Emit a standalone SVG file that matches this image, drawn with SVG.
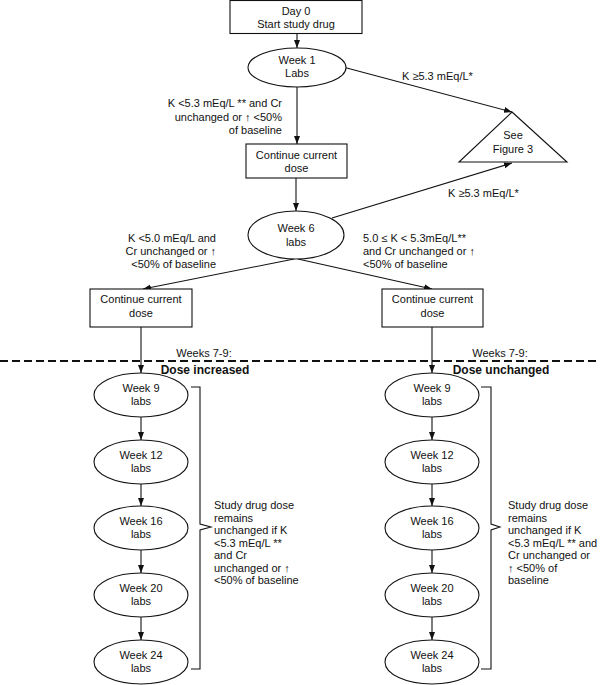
<svg xmlns="http://www.w3.org/2000/svg" width="600" height="685" viewBox="0 0 600 685">
<style>
text{font-family:"Liberation Sans",Arial,sans-serif;font-size:11px;fill:#111}
.c{text-anchor:middle}
.r{text-anchor:end}
.b{font-weight:bold;font-size:12px}
.n{fill:#fff;stroke:#111;stroke-width:1.1}
.e{fill:none;stroke:#111;stroke-width:1.1}
</style>
<defs>
<marker id="ah" markerUnits="userSpaceOnUse" markerWidth="8" markerHeight="8" viewBox="0 0 8 8" refX="8" refY="4" orient="auto">
<path d="M0,1 L8,4 L0,7 Z" fill="#111"/>
</marker>
</defs>
<rect width="600" height="685" fill="#fff"/>
<g id="connectors">
<line class="e" x1="297" y1="33" x2="297" y2="48" marker-end="url(#ah)"/>
<line class="e" x1="297" y1="87" x2="297" y2="144" marker-end="url(#ah)"/>
<line class="e" x1="343" y1="67" x2="512" y2="112" marker-end="url(#ah)"/>
<line class="e" x1="296" y1="178" x2="296" y2="211" marker-end="url(#ah)"/>
<line class="e" x1="332" y1="218" x2="512" y2="163" marker-end="url(#ah)"/>
<line class="e" x1="294" y1="259" x2="143" y2="289" marker-end="url(#ah)"/>
<line class="e" x1="298" y1="259" x2="432" y2="289" marker-end="url(#ah)"/>
<line class="e" x1="141" y1="327" x2="141" y2="373" marker-end="url(#ah)"/>
<line class="e" x1="432" y1="327" x2="432" y2="373" marker-end="url(#ah)"/>
<line class="e" x1="141" y1="417" x2="141" y2="440" marker-end="url(#ah)"/>
<line class="e" x1="141" y1="484" x2="141" y2="506" marker-end="url(#ah)"/>
<line class="e" x1="141" y1="550" x2="141" y2="573" marker-end="url(#ah)"/>
<line class="e" x1="141" y1="617" x2="141" y2="640" marker-end="url(#ah)"/>
<line class="e" x1="432" y1="417" x2="432" y2="440" marker-end="url(#ah)"/>
<line class="e" x1="432" y1="484" x2="432" y2="506" marker-end="url(#ah)"/>
<line class="e" x1="432" y1="550" x2="432" y2="573" marker-end="url(#ah)"/>
<line class="e" x1="432" y1="617" x2="432" y2="640" marker-end="url(#ah)"/>
<path class="e" d="M191,387 H200 V524 L211,527 L200,530 V669 H191"/>
<path class="e" d="M481,387 H491 V524 L500,527 L491,530 V669 H481"/>
</g>
<g id="labels">
<text class="r" x="282" y="107">K &lt;5.3 mEq/L ** and Cr</text>
<text class="r" x="282" y="121">unchanged or ↑ &lt;50%</text>
<text class="r" x="282" y="134">of baseline</text>
<text x="402" y="80">K ≥5.3 mEq/L*</text>
<text x="448" y="197">K ≥5.3 mEq/L*</text>
<text class="r" x="216" y="242">K &lt;5.0 mEq/L  and</text>
<text class="r" x="216" y="255">Cr unchanged or ↑</text>
<text class="r" x="216" y="268">&lt;50% of baseline</text>
<text x="363" y="242">5.0 ≤ K &lt; 5.3mEq/L**</text>
<text x="363" y="255">and Cr unchanged or ↑</text>
<text x="363" y="268">&lt;50% of baseline</text>
<line x1="0" y1="361" x2="600" y2="361" stroke="#111" stroke-width="2" stroke-dasharray="8,4"/>
<text class="c" x="204" y="357">Weeks 7-9:</text>
<text class="c b" x="205" y="374">Dose increased</text>
<text class="c" x="500" y="357">Weeks 7-9:</text>
<text class="c b" x="501" y="374">Dose unchanged</text>
<text x="214" y="509">Study drug dose</text>
<text x="214" y="521.5">remains</text>
<text x="214" y="534">unchanged if K</text>
<text x="214" y="546.5">&lt;5.3 mEq/L **</text>
<text x="214" y="559">and Cr</text>
<text x="214" y="571.5">unchanged or ↑</text>
<text x="214" y="584">&lt;50% of baseline</text>
<text x="508" y="509">Study drug dose</text>
<text x="508" y="521.5">remains</text>
<text x="508" y="534">unchanged if K</text>
<text x="508" y="546.5">&lt;5.3 mEq/L ** and</text>
<text x="508" y="559">Cr unchanged or</text>
<text x="508" y="571.5">↑ &lt;50% of</text>
<text x="508" y="584">baseline</text>
</g>
<g id="day0"><rect class="n" x="230" y="0.5" width="132" height="33"/><text class="c" x="296" y="15">Day 0</text><text class="c" x="296" y="28">Start study drug</text></g>
<g id="week1"><ellipse class="n" cx="297" cy="67.5" rx="49" ry="19.5"/><text class="c" x="297" y="64">Week 1</text><text class="c" x="297" y="77">Labs</text></g>
<g id="fig3"><polygon class="n" points="512,112 567,162 459,162"/><text class="c" x="513" y="139">See</text><text class="c" x="513" y="153">Figure 3</text></g>
<g id="cont1"><rect class="n" x="246" y="144" width="101" height="34"/><text class="c" x="296.5" y="159">Continue current</text><text class="c" x="296.5" y="172">dose</text></g>
<g id="week6"><ellipse class="n" cx="296" cy="235" rx="48" ry="24"/><text class="c" x="296" y="232">Week 6</text><text class="c" x="296" y="246">labs</text></g>
<g id="contL"><rect class="n" x="90" y="289" width="102" height="38"/><text class="c" x="141" y="303">Continue current</text><text class="c" x="141" y="317">dose</text></g>
<g id="contR"><rect class="n" x="382" y="289" width="101" height="38"/><text class="c" x="432.5" y="303">Continue current</text><text class="c" x="432.5" y="317">dose</text></g>
<g id="L9"><ellipse class="n" cx="141" cy="395" rx="47" ry="22"/><text class="c" x="141" y="392">Week 9</text><text class="c" x="141" y="405">labs</text></g>
<g id="L12"><ellipse class="n" cx="141" cy="462" rx="47" ry="22"/><text class="c" x="141" y="459">Week 12</text><text class="c" x="141" y="472">labs</text></g>
<g id="L16"><ellipse class="n" cx="141" cy="528" rx="47" ry="22"/><text class="c" x="141" y="525">Week 16</text><text class="c" x="141" y="538">labs</text></g>
<g id="L20"><ellipse class="n" cx="141" cy="595" rx="47" ry="22"/><text class="c" x="141" y="592">Week 20</text><text class="c" x="141" y="605">labs</text></g>
<g id="L24"><ellipse class="n" cx="141" cy="662" rx="47" ry="22"/><text class="c" x="141" y="659">Week 24</text><text class="c" x="141" y="672">labs</text></g>
<g id="R9"><ellipse class="n" cx="432" cy="395" rx="47" ry="22"/><text class="c" x="432" y="392">Week 9</text><text class="c" x="432" y="405">labs</text></g>
<g id="R12"><ellipse class="n" cx="432" cy="462" rx="47" ry="22"/><text class="c" x="432" y="459">Week 12</text><text class="c" x="432" y="472">labs</text></g>
<g id="R16"><ellipse class="n" cx="432" cy="528" rx="47" ry="22"/><text class="c" x="432" y="525">Week 16</text><text class="c" x="432" y="538">labs</text></g>
<g id="R20"><ellipse class="n" cx="432" cy="595" rx="47" ry="22"/><text class="c" x="432" y="592">Week 20</text><text class="c" x="432" y="605">labs</text></g>
<g id="R24"><ellipse class="n" cx="432" cy="662" rx="47" ry="22"/><text class="c" x="432" y="659">Week 24</text><text class="c" x="432" y="672">labs</text></g>
</svg>
